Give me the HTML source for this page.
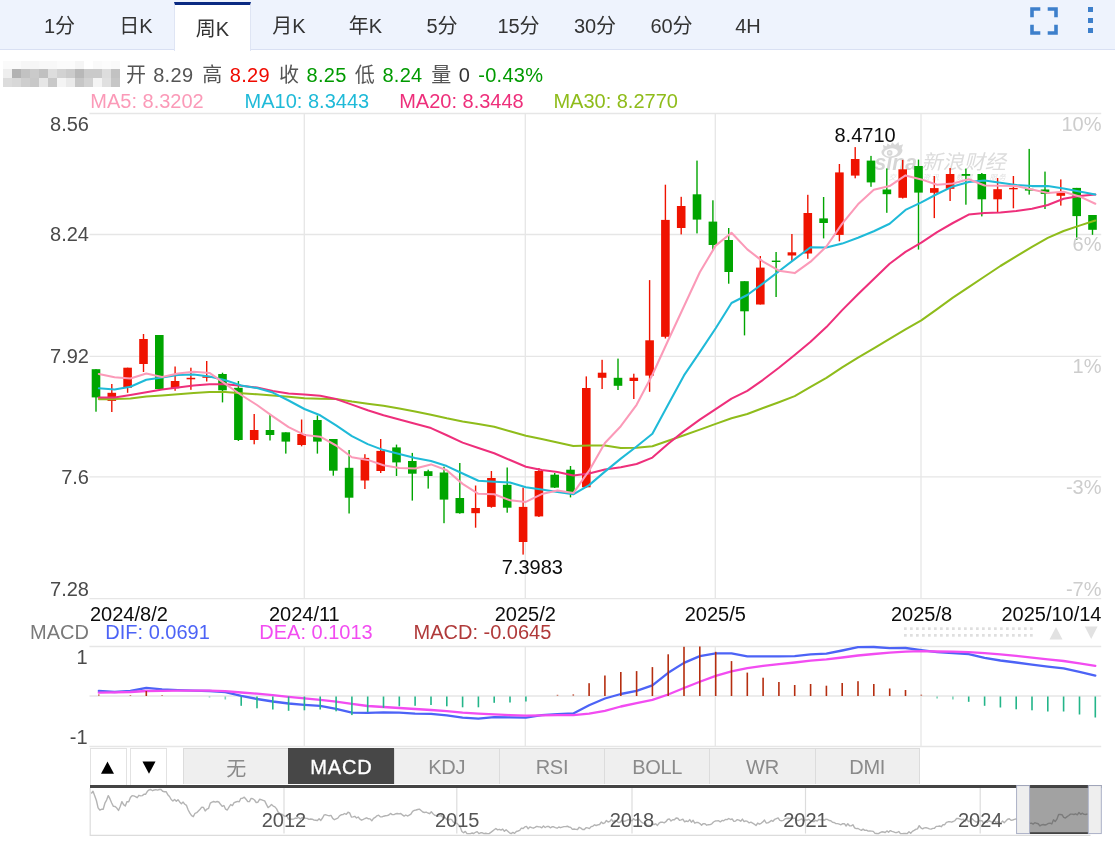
<!DOCTYPE html>
<html lang="zh-CN">
<head>
<meta charset="utf-8">
<title>周K</title>
<style>
html,body{margin:0;padding:0;background:#fff;}
body{width:1115px;height:847px;overflow:hidden;position:relative;font-family:"Liberation Sans","Noto Sans CJK SC",sans-serif;}
.bar{position:absolute;left:0;top:0;width:1115px;height:49px;background:#eef3fd;border-bottom:1.3px solid #d9e0f3;box-sizing:content-box;}
.tabs{position:absolute;left:21.25px;top:0;height:50px;display:flex;}
.tab{width:76.5px;height:50px;line-height:53px;text-align:center;font-size:20px;color:#333;box-sizing:border-box;}
.tab.on{background:#fff;border-top:3px solid #0a2a82;margin-top:2px;height:49px;line-height:48px;border-left:1px solid #dfe5f4;border-right:1px solid #dfe5f4;}
.fs{position:absolute;left:1030px;top:7px;width:28px;height:28px;}
.dots i{position:absolute;left:1088px;width:5.2px;height:5.2px;background:#3d7fcb;}
.mosaic{position:absolute;left:3px;top:60.5px;width:117.3px;height:26.6px;overflow:hidden;filter:blur(0.5px);}
.mosaic i{position:absolute;width:9.1px;height:8.95px;}
.info{position:absolute;top:61.6px;left:0;height:26px;line-height:26px;font-size:20px;color:#555;white-space:nowrap;}
.info span{position:absolute;top:0;letter-spacing:0.3px;}
.r{color:#f00a00;} .g{color:#009a00;}
.cv{position:absolute;left:0;top:0;}
.ibar{position:absolute;left:90px;top:748px;width:1011.5px;height:37.2px;}
.ab{position:absolute;top:0;height:36.5px;width:36.5px;border:1px solid #e2e2e2;border-bottom:none;box-sizing:border-box;font-size:0;}
.ab svg{position:absolute;left:0;top:0;}
.its{position:absolute;left:93px;top:0;display:flex;height:37px;}
.it{width:105.28px;height:36.3px;line-height:37px;overflow:hidden;text-align:center;font-size:20px;color:#8a8a8a;background:#efefef;border:1px solid #dcdcdc;border-right:none;border-bottom:none;box-sizing:border-box;letter-spacing:-0.3px;}
.it:last-child{border-right:1px solid #dcdcdc;}
.it.on{background:#474747;color:#fff;border-color:#474747;letter-spacing:0.9px;-webkit-text-stroke:0.35px #fff;}
.it:first-child{line-height:40px;}
</style>
</head>
<body>
<div class="bar"></div>
<div class="tabs"><div class="tab">1分</div><div class="tab">日K</div><div class="tab on">周K</div><div class="tab">月K</div><div class="tab">年K</div><div class="tab">5分</div><div class="tab">15分</div><div class="tab">30分</div><div class="tab">60分</div><div class="tab">4H</div></div>
<svg class="fs" viewBox="0 0 28 28"><path d="M2 10.3V2h8.3M17.7 2H26v8.3M26 17.7V26h-8.3M10.3 26H2v-8.3" fill="none" stroke="#3d7fcb" stroke-width="3.6"/></svg>
<div class="dots"><i style="top:7.2px"></i><i style="top:17.7px"></i><i style="top:28px"></i></div>
<div class="mosaic"><i style="left:0.00px;top:0.00px;background:#fafafa"></i><i style="left:9.02px;top:0.00px;background:#fafafa"></i><i style="left:18.04px;top:0.00px;background:#f6f6f6"></i><i style="left:27.06px;top:0.00px;background:#f6f6f6"></i><i style="left:36.08px;top:0.00px;background:#f8f8f8"></i><i style="left:45.10px;top:0.00px;background:#f8f8f8"></i><i style="left:54.12px;top:0.00px;background:#fbfbfb"></i><i style="left:63.14px;top:0.00px;background:#fbfbfb"></i><i style="left:72.16px;top:0.00px;background:#f5f5f5"></i><i style="left:81.18px;top:0.00px;background:#ffffff"></i><i style="left:90.20px;top:0.00px;background:#fafafa"></i><i style="left:99.22px;top:0.00px;background:#fcfcfc"></i><i style="left:108.24px;top:0.00px;background:#fafafa"></i><i style="left:0.00px;top:8.85px;background:#eeeeee"></i><i style="left:9.02px;top:8.85px;background:#b2b2b2"></i><i style="left:18.04px;top:8.85px;background:#c2c2c2"></i><i style="left:27.06px;top:8.85px;background:#cacaca"></i><i style="left:36.08px;top:8.85px;background:#c0c0c0"></i><i style="left:45.10px;top:8.85px;background:#dddddd"></i><i style="left:54.12px;top:8.85px;background:#d2d2d2"></i><i style="left:63.14px;top:8.85px;background:#cbcbcb"></i><i style="left:72.16px;top:8.85px;background:#b8b8b8"></i><i style="left:81.18px;top:8.85px;background:#cacaca"></i><i style="left:90.20px;top:8.85px;background:#cacaca"></i><i style="left:99.22px;top:8.85px;background:#dddddd"></i><i style="left:108.24px;top:8.85px;background:#c2c2c2"></i><i style="left:0.00px;top:17.70px;background:#dcdcdc"></i><i style="left:9.02px;top:17.70px;background:#d8d8d8"></i><i style="left:18.04px;top:17.70px;background:#cecece"></i><i style="left:27.06px;top:17.70px;background:#c8c8c8"></i><i style="left:36.08px;top:17.70px;background:#e6e6e6"></i><i style="left:45.10px;top:17.70px;background:#c8c8c8"></i><i style="left:54.12px;top:17.70px;background:#f4f4f4"></i><i style="left:63.14px;top:17.70px;background:#eaeaea"></i><i style="left:72.16px;top:17.70px;background:#c6c6c6"></i><i style="left:81.18px;top:17.70px;background:#d2d2d2"></i><i style="left:90.20px;top:17.70px;background:#f4f4f4"></i><i style="left:99.22px;top:17.70px;background:#e0e0e0"></i><i style="left:108.24px;top:17.70px;background:#c6c6c6"></i></div>
<div class="info">
<span style="left:126px">开</span><span style="left:153.2px">8.29</span>
<span style="left:202.2px">高</span><span class="r" style="left:229.8px">8.29</span>
<span style="left:279px">收</span><span class="g" style="left:306.6px">8.25</span>
<span style="left:354.8px">低</span><span class="g" style="left:382.4px">8.24</span>
<span style="left:431.2px">量</span><span style="left:458.8px;color:#333">0</span>
<span class="g" style="left:478.2px">-0.43%</span>
</div>
<svg class="cv" width="1115" height="847" viewBox="0 0 1115 847">
<g stroke="#e6e6e6" stroke-width="1.3" fill="none" shape-rendering="auto">
<line x1="89.5" x2="1101.2" y1="113.5" y2="113.5"/>
<line x1="89.5" x2="1101.2" y1="234.5" y2="234.5"/>
<line x1="89.5" x2="1101.2" y1="356.3" y2="356.3"/>
<line x1="89.5" x2="1101.2" y1="476.8" y2="476.8"/>
<line x1="89.5" x2="1101.2" y1="598.6" y2="598.6"/>
<line x1="304.3" x2="304.3" y1="113.5" y2="598.6"/>
<line x1="304.3" x2="304.3" y1="646.5" y2="746.5"/>
<line x1="525.3" x2="525.3" y1="113.5" y2="598.6"/>
<line x1="525.3" x2="525.3" y1="646.5" y2="746.5"/>
<line x1="715.3" x2="715.3" y1="113.5" y2="598.6"/>
<line x1="715.3" x2="715.3" y1="646.5" y2="746.5"/>
<line x1="921" x2="921" y1="113.5" y2="598.6"/>
<line x1="921" x2="921" y1="646.5" y2="746.5"/>
<line x1="89.5" x2="1101.2" y1="646.5" y2="646.5"/>
<line x1="89.5" x2="1101.2" y1="696" y2="696"/>
<line x1="89.5" x2="1101.2" y1="746.5" y2="746.5"/>
</g>
<g opacity="1">
<g fill="#d8d8d8" stroke="none"><ellipse cx="892" cy="151.6" rx="10.6" ry="6.2" transform="rotate(-8 892 151.6)"/><path d="M883.5 148 L882.8 144.8 L886.5 146.5 L887.5 143.2 L890.5 145.5 L892.2 142.3 L895 145 L898.5 142 L899.2 145.6 L903.2 144.3 L901.5 148.5 Z"/></g>
<ellipse cx="890.9" cy="152.4" rx="7" ry="4" fill="#fff" transform="rotate(-8 890.9 152.4)"/>
<circle cx="889.7" cy="152.9" r="2.8" fill="#d8d8d8"/><circle cx="889.5" cy="152.8" r="1.2" fill="#ececec"/>
<text x="874.6" y="169.6" font-family="'Liberation Sans',sans-serif" font-weight="bold" font-style="italic" font-size="21.5" fill="#d6d6d6" textLength="42.3" lengthAdjust="spacingAndGlyphs">sına</text>
<text x="921.5" y="168.6" font-family="'Liberation Sans','Noto Sans CJK SC',sans-serif" font-weight="400" font-size="20" fill="#dcdcdc" transform="skewX(-14)" style="transform-origin:921.5px 168.6px" textLength="84.5" lengthAdjust="spacingAndGlyphs">新浪财经</text>
<text x="889" y="180.5" font-family="'Liberation Sans','Noto Sans CJK SC',sans-serif" font-size="7.5" fill="#e2e2e2" style="transform-origin:889px 180px" transform="skewX(-14)" textLength="117" lengthAdjust="spacing" word-spacing="12">交易 资讯 数据 服务</text>
</g>
<rect x="95.3" y="369.2" width="1.4" height="42.5" fill="#00a500"/><rect x="91.7" y="369.2" width="8.6" height="28.2" fill="#00a500"/>
<rect x="111.1" y="384.0" width="1.4" height="28.0" fill="#ef1300"/><rect x="107.5" y="392.8" width="8.6" height="8.1" fill="#ef1300"/>
<rect x="126.9" y="367.7" width="1.4" height="25.1" fill="#ef1300"/><rect x="123.3" y="367.7" width="8.6" height="20.1" fill="#ef1300"/>
<rect x="142.8" y="334.0" width="1.4" height="38.0" fill="#ef1300"/><rect x="139.2" y="339.0" width="8.6" height="25.0" fill="#ef1300"/>
<rect x="158.6" y="335.0" width="1.4" height="54.0" fill="#00a500"/><rect x="155.0" y="335.0" width="8.6" height="54.0" fill="#00a500"/>
<rect x="174.4" y="366.5" width="1.4" height="24.3" fill="#ef1300"/><rect x="170.8" y="381.0" width="8.6" height="7.3" fill="#ef1300"/>
<rect x="190.2" y="367.7" width="1.4" height="22.1" fill="#ef1300"/><rect x="186.6" y="377.8" width="8.6" height="1.5" fill="#ef1300"/>
<rect x="206.0" y="361.0" width="1.4" height="20.5" fill="#ef1300"/><rect x="202.4" y="376.3" width="8.6" height="1.5" fill="#ef1300"/>
<rect x="221.8" y="372.7" width="1.4" height="29.7" fill="#00a500"/><rect x="218.2" y="374.0" width="8.6" height="16.3" fill="#00a500"/>
<rect x="237.7" y="381.0" width="1.4" height="60.0" fill="#00a500"/><rect x="234.1" y="387.8" width="8.6" height="52.2" fill="#00a500"/>
<rect x="253.5" y="414.0" width="1.4" height="30.3" fill="#ef1300"/><rect x="249.9" y="430.0" width="8.6" height="10.0" fill="#ef1300"/>
<rect x="269.3" y="415.0" width="1.4" height="25.5" fill="#00a500"/><rect x="265.7" y="430.0" width="8.6" height="5.0" fill="#00a500"/>
<rect x="285.1" y="432.3" width="1.4" height="21.3" fill="#00a500"/><rect x="281.5" y="432.3" width="8.6" height="9.3" fill="#00a500"/>
<rect x="300.9" y="419.5" width="1.4" height="26.8" fill="#ef1300"/><rect x="297.3" y="434.0" width="8.6" height="11.0" fill="#ef1300"/>
<rect x="316.7" y="415.4" width="1.4" height="38.2" fill="#00a500"/><rect x="313.1" y="420.0" width="8.6" height="21.6" fill="#00a500"/>
<rect x="332.6" y="439.0" width="1.4" height="36.7" fill="#00a500"/><rect x="329.0" y="439.0" width="8.6" height="31.7" fill="#00a500"/>
<rect x="348.4" y="450.0" width="1.4" height="63.5" fill="#00a500"/><rect x="344.8" y="467.8" width="8.6" height="29.9" fill="#00a500"/>
<rect x="364.2" y="454.2" width="1.4" height="34.8" fill="#ef1300"/><rect x="360.6" y="457.9" width="8.6" height="22.6" fill="#ef1300"/>
<rect x="380.0" y="439.0" width="1.4" height="34.0" fill="#ef1300"/><rect x="376.4" y="450.9" width="8.6" height="20.1" fill="#ef1300"/>
<rect x="395.8" y="444.6" width="1.4" height="31.4" fill="#00a500"/><rect x="392.2" y="447.4" width="8.6" height="15.0" fill="#00a500"/>
<rect x="411.6" y="452.9" width="1.4" height="47.7" fill="#00a500"/><rect x="408.0" y="461.0" width="8.6" height="12.7" fill="#00a500"/>
<rect x="427.5" y="469.7" width="1.4" height="18.9" fill="#00a500"/><rect x="423.9" y="471.2" width="8.6" height="4.8" fill="#00a500"/>
<rect x="443.3" y="466.7" width="1.4" height="56.5" fill="#00a500"/><rect x="439.7" y="472.5" width="8.6" height="27.1" fill="#00a500"/>
<rect x="459.1" y="463.0" width="1.4" height="50.7" fill="#00a500"/><rect x="455.5" y="498.0" width="8.6" height="15.2" fill="#00a500"/>
<rect x="474.9" y="485.5" width="1.4" height="42.2" fill="#ef1300"/><rect x="471.3" y="508.0" width="8.6" height="5.2" fill="#ef1300"/>
<rect x="490.7" y="471.0" width="1.4" height="36.7" fill="#ef1300"/><rect x="487.1" y="478.0" width="8.6" height="28.9" fill="#ef1300"/>
<rect x="506.5" y="467.5" width="1.4" height="45.2" fill="#00a500"/><rect x="502.9" y="484.8" width="8.6" height="22.9" fill="#00a500"/>
<rect x="522.4" y="487.6" width="1.4" height="67.0" fill="#ef1300"/><rect x="518.8" y="506.9" width="8.6" height="35.1" fill="#ef1300"/>
<rect x="538.2" y="468.0" width="1.4" height="49.0" fill="#ef1300"/><rect x="534.6" y="471.0" width="8.6" height="45.4" fill="#ef1300"/>
<rect x="554.0" y="473.0" width="1.4" height="15.0" fill="#00a500"/><rect x="550.4" y="474.7" width="8.6" height="12.9" fill="#00a500"/>
<rect x="569.8" y="466.0" width="1.4" height="31.4" fill="#00a500"/><rect x="566.2" y="469.7" width="8.6" height="22.9" fill="#00a500"/>
<rect x="585.6" y="376.4" width="1.4" height="111.2" fill="#ef1300"/><rect x="582.0" y="388.0" width="8.6" height="99.3" fill="#ef1300"/>
<rect x="601.4" y="359.8" width="1.4" height="29.2" fill="#ef1300"/><rect x="597.8" y="372.7" width="8.6" height="5.1" fill="#ef1300"/>
<rect x="617.3" y="358.6" width="1.4" height="31.4" fill="#00a500"/><rect x="613.7" y="377.8" width="8.6" height="8.0" fill="#00a500"/>
<rect x="633.1" y="373.7" width="1.4" height="25.3" fill="#ef1300"/><rect x="629.5" y="377.7" width="8.6" height="3.3" fill="#ef1300"/>
<rect x="648.9" y="280.1" width="1.4" height="111.7" fill="#ef1300"/><rect x="645.3" y="340.3" width="8.6" height="35.3" fill="#ef1300"/>
<rect x="664.7" y="184.7" width="1.4" height="153.8" fill="#ef1300"/><rect x="661.1" y="219.9" width="8.6" height="116.9" fill="#ef1300"/>
<rect x="680.5" y="196.8" width="1.4" height="37.6" fill="#ef1300"/><rect x="676.9" y="206.0" width="8.6" height="22.0" fill="#ef1300"/>
<rect x="696.3" y="160.6" width="1.4" height="72.8" fill="#00a500"/><rect x="692.7" y="194.3" width="8.6" height="25.3" fill="#00a500"/>
<rect x="712.2" y="200.3" width="1.4" height="50.2" fill="#00a500"/><rect x="708.6" y="221.6" width="8.6" height="23.4" fill="#00a500"/>
<rect x="728.0" y="228.0" width="1.4" height="55.7" fill="#00a500"/><rect x="724.4" y="240.0" width="8.6" height="32.0" fill="#00a500"/>
<rect x="743.8" y="281.2" width="1.4" height="54.2" fill="#00a500"/><rect x="740.2" y="281.2" width="8.6" height="30.1" fill="#00a500"/>
<rect x="759.6" y="256.0" width="1.4" height="48.5" fill="#ef1300"/><rect x="756.0" y="267.6" width="8.6" height="36.9" fill="#ef1300"/>
<rect x="775.4" y="252.0" width="1.4" height="45.0" fill="#00a500"/><rect x="771.8" y="260.6" width="8.6" height="1.4" fill="#00a500"/>
<rect x="791.2" y="234.0" width="1.4" height="27.0" fill="#ef1300"/><rect x="787.6" y="252.3" width="8.6" height="3.2" fill="#ef1300"/>
<rect x="807.1" y="194.8" width="1.4" height="64.0" fill="#ef1300"/><rect x="803.5" y="213.0" width="8.6" height="40.5" fill="#ef1300"/>
<rect x="822.9" y="197.0" width="1.4" height="41.4" fill="#00a500"/><rect x="819.3" y="218.4" width="8.6" height="4.6" fill="#00a500"/>
<rect x="838.7" y="164.0" width="1.4" height="77.3" fill="#ef1300"/><rect x="835.1" y="172.4" width="8.6" height="62.5" fill="#ef1300"/>
<rect x="854.5" y="147.1" width="1.4" height="31.2" fill="#ef1300"/><rect x="850.9" y="159.0" width="8.6" height="16.6" fill="#ef1300"/>
<rect x="870.3" y="155.9" width="1.4" height="30.9" fill="#00a500"/><rect x="866.7" y="160.6" width="8.6" height="21.8" fill="#00a500"/>
<rect x="886.1" y="168.4" width="1.4" height="44.4" fill="#00a500"/><rect x="882.6" y="189.5" width="8.6" height="4.7" fill="#00a500"/>
<rect x="902.0" y="159.9" width="1.4" height="38.6" fill="#ef1300"/><rect x="898.4" y="169.3" width="8.6" height="28.5" fill="#ef1300"/>
<rect x="917.8" y="159.6" width="1.4" height="90.0" fill="#00a500"/><rect x="914.2" y="166.0" width="8.6" height="26.6" fill="#00a500"/>
<rect x="933.6" y="176.0" width="1.4" height="42.1" fill="#ef1300"/><rect x="930.0" y="188.1" width="8.6" height="4.7" fill="#ef1300"/>
<rect x="949.4" y="168.0" width="1.4" height="33.0" fill="#ef1300"/><rect x="945.8" y="174.0" width="8.6" height="14.8" fill="#ef1300"/>
<rect x="965.2" y="168.6" width="1.4" height="36.1" fill="#00a500"/><rect x="961.6" y="174.0" width="8.6" height="1.8" fill="#00a500"/>
<rect x="981.1" y="173.0" width="1.4" height="43.4" fill="#00a500"/><rect x="977.5" y="174.0" width="8.6" height="25.3" fill="#00a500"/>
<rect x="996.9" y="178.0" width="1.4" height="34.3" fill="#ef1300"/><rect x="993.3" y="189.2" width="8.6" height="10.1" fill="#ef1300"/>
<rect x="1012.7" y="176.0" width="1.4" height="32.3" fill="#ef1300"/><rect x="1009.1" y="187.9" width="8.6" height="1.4" fill="#ef1300"/>
<rect x="1028.5" y="148.9" width="1.4" height="45.7" fill="#00a500"/><rect x="1024.9" y="188.8" width="8.6" height="1.8" fill="#00a500"/>
<rect x="1044.3" y="171.6" width="1.4" height="37.4" fill="#00a500"/><rect x="1040.7" y="189.5" width="8.6" height="4.4" fill="#00a500"/>
<rect x="1060.1" y="179.4" width="1.4" height="26.2" fill="#ef1300"/><rect x="1056.5" y="192.6" width="8.6" height="3.2" fill="#ef1300"/>
<rect x="1076.0" y="187.9" width="1.4" height="52.0" fill="#00a500"/><rect x="1072.4" y="187.9" width="8.6" height="28.2" fill="#00a500"/>
<rect x="1091.8" y="215.0" width="1.4" height="19.8" fill="#00a500"/><rect x="1088.2" y="215.0" width="8.6" height="14.8" fill="#00a500"/>
<polyline points="98.8,399.1 114.6,399.1 130.4,398.4 146.3,396.5 162.1,395.4 177.9,394.3 193.7,393.1 209.5,391.9 225.3,392.1 241.2,393.3 257.0,394.3 272.8,395.4 288.6,396.8 304.4,398.3 320.2,398.7 336.1,399.1 351.9,401.6 367.7,403.7 383.5,405.7 399.3,408.5 415.1,411.4 431.0,414.8 446.8,418.3 462.6,421.4 478.4,424.0 494.2,426.8 510.0,431.3 525.9,435.8 541.7,439.1 557.5,442.5 573.3,446.1 589.1,445.5 604.9,445.4 620.8,447.9 636.6,447.7 652.4,446.2 668.2,440.8 684.0,435.2 699.8,429.6 715.7,423.9 731.5,418.2 747.3,414.0 763.1,408.0 778.9,402.2 794.7,396.1 810.6,386.8 826.4,377.8 842.2,367.4 858.0,357.6 873.8,348.3 889.6,338.8 905.5,329.4 921.3,320.4 937.1,309.1 952.9,297.7 968.7,287.1 984.6,276.5 1000.4,266.0 1016.2,256.4 1032.0,246.9 1047.8,237.9 1063.6,231.0 1079.5,225.6 1095.3,220.5" fill="none" stroke="#8fbc1b" stroke-width="2.05" stroke-linejoin="round" stroke-linecap="round"/>
<polyline points="98.8,397.4 114.6,397.4 130.4,394.9 146.3,392.2 162.1,389.6 177.9,387.5 193.7,385.5 209.5,384.3 225.3,384.3 241.2,385.8 257.0,387.6 272.8,391.0 288.6,393.4 304.4,394.5 320.2,395.8 336.1,399.1 351.9,404.6 367.7,410.3 383.5,415.2 399.3,419.5 415.1,423.7 431.0,428.1 446.8,435.3 462.6,442.6 478.4,448.0 494.2,453.3 510.0,460.0 525.9,466.7 541.7,470.1 557.5,472.0 573.3,475.5 589.1,473.4 604.9,469.5 620.8,467.3 636.6,464.0 652.4,457.6 668.2,443.7 684.0,431.1 699.8,419.7 715.7,409.1 731.5,398.6 747.3,390.8 763.1,379.8 778.9,367.8 794.7,355.0 810.6,341.7 826.4,327.1 842.2,310.1 858.0,294.2 873.8,278.9 889.6,263.8 905.5,251.9 921.3,242.6 937.1,232.1 952.9,223.0 968.7,214.6 984.6,212.9 1000.4,212.4 1016.2,211.1 1032.0,208.8 1047.8,205.0 1063.6,198.8 1079.5,195.9 1095.3,194.6" fill="none" stroke="#ee2f7b" stroke-width="2.05" stroke-linejoin="round" stroke-linecap="round"/>
<polyline points="98.8,388.3 114.6,389.6 130.4,386.8 146.3,379.7 162.1,377.4 177.9,375.1 193.7,374.4 209.5,376.4 225.3,380.2 241.2,385.4 257.0,388.1 272.8,392.6 288.6,400.5 304.4,409.0 320.2,415.3 336.1,425.4 351.9,436.1 367.7,444.1 383.5,450.1 399.3,454.0 415.1,457.9 431.0,461.1 446.8,466.1 462.6,473.5 478.4,480.8 494.2,481.8 510.0,482.5 525.9,487.3 541.7,489.4 557.5,492.0 573.3,494.3 589.1,485.1 604.9,471.6 620.8,458.6 636.6,446.5 652.4,433.7 668.2,404.4 684.0,375.4 699.8,352.2 715.7,328.3 731.5,303.0 747.3,295.0 763.1,283.4 778.9,271.2 794.7,259.1 810.6,247.2 826.4,247.5 842.2,243.6 858.0,237.7 873.8,231.3 889.6,223.8 905.5,209.9 921.3,202.3 937.1,194.0 952.9,186.4 968.7,182.1 984.6,180.6 1000.4,182.8 1016.2,184.9 1032.0,186.1 1047.8,186.1 1063.6,188.5 1079.5,191.4 1095.3,194.4" fill="none" stroke="#1fbad8" stroke-width="2.05" stroke-linejoin="round" stroke-linecap="round"/>
<polyline points="98.8,374.0 114.6,377.2 130.4,378.4 146.3,373.6 162.1,376.9 177.9,373.6 193.7,371.7 209.5,372.9 225.3,383.8 241.2,395.0 257.0,405.0 272.8,416.3 288.6,427.2 304.4,434.9 320.2,436.7 336.1,445.5 351.9,457.2 367.7,459.9 383.5,465.2 399.3,468.1 415.1,468.5 431.0,464.4 446.8,470.3 462.6,483.9 478.4,493.8 494.2,494.3 510.0,500.3 525.9,501.9 541.7,494.1 557.5,490.4 573.3,493.1 589.1,470.7 604.9,443.0 620.8,426.2 636.6,404.8 652.4,374.8 668.2,340.2 684.0,306.2 699.8,272.2 715.7,245.6 731.5,232.8 747.3,249.4 763.1,261.6 778.9,270.7 794.7,273.1 810.6,261.7 826.4,246.5 842.2,223.6 858.0,204.3 873.8,189.8 889.6,186.1 905.5,175.4 921.3,179.4 937.1,184.8 952.9,183.5 968.7,179.2 984.6,185.5 1000.4,185.8 1016.2,186.1 1032.0,189.4 1047.8,193.1 1063.6,191.8 1079.5,196.4 1095.3,203.7" fill="none" stroke="#fb9ab8" stroke-width="2.05" stroke-linejoin="round" stroke-linecap="round"/>
<polyline points="98.8,691.0 114.6,692.0 130.4,691.0 146.3,687.8 162.1,689.4 177.9,690.1 193.7,690.6 209.5,691.0 225.3,692.2 241.2,695.8 257.0,699.0 272.8,701.5 288.6,703.5 304.4,704.8 320.2,705.8 336.1,708.8 351.9,712.6 367.7,712.8 383.5,712.3 399.3,712.6 415.1,713.6 431.0,713.9 446.8,715.4 462.6,717.6 478.4,718.6 494.2,717.1 510.0,717.3 525.9,717.6 541.7,715.1 557.5,714.1 573.3,713.4 589.1,705.3 604.9,698.5 620.8,694.0 636.6,690.8 652.4,685.3 668.2,672.8 684.0,662.9 699.8,656.1 715.7,653.3 731.5,653.4 747.3,656.3 763.1,656.3 778.9,656.3 794.7,656.2 810.6,654.4 826.4,653.7 842.2,650.5 858.0,647.2 873.8,647.0 889.6,648.2 905.5,648.0 921.3,650.2 937.1,652.1 952.9,653.1 968.7,654.2 984.6,657.9 1000.4,660.5 1016.2,662.5 1032.0,664.6 1047.8,666.6 1063.6,668.3 1079.5,671.8 1095.3,675.6" fill="none" stroke="#4c63f6" stroke-width="2.3" stroke-linejoin="round" stroke-linecap="round"/>
<polyline points="98.8,692.7 114.6,692.4 130.4,692.0 146.3,691.0 162.1,690.9 177.9,690.7 193.7,690.7 209.5,690.7 225.3,691.2 241.2,692.5 257.0,693.7 272.8,695.2 288.6,696.9 304.4,698.3 320.2,699.8 336.1,701.6 351.9,703.9 367.7,706.0 383.5,707.0 399.3,708.0 415.1,709.0 431.0,710.0 446.8,711.1 462.6,712.6 478.4,713.6 494.2,714.3 510.0,715.1 525.9,715.6 541.7,715.3 557.5,715.1 573.3,715.1 589.1,713.6 604.9,710.8 620.8,706.5 636.6,703.2 652.4,699.9 668.2,694.5 684.0,688.0 699.8,681.8 715.7,675.9 731.5,671.3 747.3,668.2 763.1,665.9 778.9,664.1 794.7,662.5 810.6,660.7 826.4,659.3 842.2,657.5 858.0,655.5 873.8,654.0 889.6,652.6 905.5,651.7 921.3,651.2 937.1,651.5 952.9,651.7 968.7,652.2 984.6,653.2 1000.4,654.3 1016.2,655.8 1032.0,657.6 1047.8,659.4 1063.6,661.0 1079.5,663.4 1095.3,665.8" fill="none" stroke="#f24cf1" stroke-width="2.3" stroke-linejoin="round" stroke-linecap="round"/>
<rect x="98.0" y="694.2" width="1.6" height="1.8" fill="#b52e10" opacity="0.55"/>
<rect x="129.6" y="695.0" width="1.6" height="1.0" fill="#b52e10" opacity="0.55"/>
<rect x="145.5" y="691.0" width="1.6" height="5.0" fill="#b52e10" opacity="1"/>
<rect x="161.3" y="695.0" width="1.6" height="1.0" fill="#b52e10" opacity="0.55"/>
<rect x="208.7" y="696.5" width="1.6" height="1.0" fill="#24b589" opacity="0.6"/>
<rect x="224.5" y="696.5" width="1.6" height="3.0" fill="#24b589" opacity="0.6"/>
<rect x="240.4" y="696.5" width="1.6" height="9.3" fill="#24b589" opacity="1"/>
<rect x="256.2" y="696.5" width="1.6" height="11.8" fill="#24b589" opacity="1"/>
<rect x="272.0" y="696.5" width="1.6" height="13.0" fill="#24b589" opacity="1"/>
<rect x="287.8" y="696.5" width="1.6" height="14.3" fill="#24b589" opacity="1"/>
<rect x="303.6" y="696.5" width="1.6" height="13.8" fill="#24b589" opacity="1"/>
<rect x="319.4" y="696.5" width="1.6" height="13.0" fill="#24b589" opacity="1"/>
<rect x="335.3" y="696.5" width="1.6" height="14.8" fill="#24b589" opacity="1"/>
<rect x="351.1" y="696.5" width="1.6" height="18.6" fill="#24b589" opacity="1"/>
<rect x="366.9" y="696.5" width="1.6" height="15.6" fill="#24b589" opacity="1"/>
<rect x="382.7" y="696.5" width="1.6" height="11.3" fill="#24b589" opacity="1"/>
<rect x="398.5" y="696.5" width="1.6" height="9.8" fill="#24b589" opacity="1"/>
<rect x="414.3" y="696.5" width="1.6" height="9.3" fill="#24b589" opacity="1"/>
<rect x="430.2" y="696.5" width="1.6" height="8.5" fill="#24b589" opacity="1"/>
<rect x="446.0" y="696.5" width="1.6" height="9.8" fill="#24b589" opacity="1"/>
<rect x="461.8" y="696.5" width="1.6" height="10.8" fill="#24b589" opacity="1"/>
<rect x="477.6" y="696.5" width="1.6" height="10.8" fill="#24b589" opacity="1"/>
<rect x="493.4" y="696.5" width="1.6" height="6.3" fill="#24b589" opacity="1"/>
<rect x="509.2" y="696.5" width="1.6" height="6.0" fill="#24b589" opacity="1"/>
<rect x="525.1" y="696.5" width="1.6" height="5.0" fill="#24b589" opacity="1"/>
<rect x="556.7" y="694.7" width="1.6" height="1.3" fill="#b52e10" opacity="0.55"/>
<rect x="572.5" y="694.0" width="1.6" height="2.0" fill="#b52e10" opacity="0.55"/>
<rect x="588.3" y="683.2" width="1.6" height="12.8" fill="#b52e10" opacity="1"/>
<rect x="604.1" y="675.5" width="1.6" height="20.5" fill="#b52e10" opacity="1"/>
<rect x="620.0" y="672.0" width="1.6" height="24.0" fill="#b52e10" opacity="1"/>
<rect x="635.8" y="671.1" width="1.6" height="24.9" fill="#b52e10" opacity="1"/>
<rect x="651.6" y="667.1" width="1.6" height="28.9" fill="#b52e10" opacity="1"/>
<rect x="667.4" y="654.3" width="1.6" height="41.7" fill="#b52e10" opacity="1"/>
<rect x="683.2" y="646.8" width="1.6" height="49.2" fill="#b52e10" opacity="1"/>
<rect x="699.0" y="646.5" width="1.6" height="49.5" fill="#b52e10" opacity="1"/>
<rect x="714.9" y="651.8" width="1.6" height="44.2" fill="#b52e10" opacity="1"/>
<rect x="730.7" y="661.1" width="1.6" height="34.9" fill="#b52e10" opacity="1"/>
<rect x="746.5" y="672.6" width="1.6" height="23.4" fill="#b52e10" opacity="1"/>
<rect x="762.3" y="677.7" width="1.6" height="18.3" fill="#b52e10" opacity="1"/>
<rect x="778.1" y="682.0" width="1.6" height="14.0" fill="#b52e10" opacity="1"/>
<rect x="793.9" y="685.0" width="1.6" height="11.0" fill="#b52e10" opacity="1"/>
<rect x="809.8" y="684.0" width="1.6" height="12.0" fill="#b52e10" opacity="1"/>
<rect x="825.6" y="685.7" width="1.6" height="10.3" fill="#b52e10" opacity="1"/>
<rect x="841.4" y="683.0" width="1.6" height="13.0" fill="#b52e10" opacity="1"/>
<rect x="857.2" y="681.2" width="1.6" height="14.8" fill="#b52e10" opacity="1"/>
<rect x="873.0" y="684.0" width="1.6" height="12.0" fill="#b52e10" opacity="1"/>
<rect x="888.9" y="688.5" width="1.6" height="7.5" fill="#b52e10" opacity="1"/>
<rect x="904.7" y="690.0" width="1.6" height="6.0" fill="#b52e10" opacity="1"/>
<rect x="920.5" y="694.5" width="1.6" height="1.5" fill="#b52e10" opacity="0.55"/>
<rect x="936.3" y="696.5" width="1.6" height="2.0" fill="#24b589" opacity="0.6"/>
<rect x="952.1" y="696.5" width="1.6" height="3.0" fill="#24b589" opacity="0.6"/>
<rect x="967.9" y="696.5" width="1.6" height="5.3" fill="#24b589" opacity="1"/>
<rect x="983.8" y="696.5" width="1.6" height="9.3" fill="#24b589" opacity="1"/>
<rect x="999.6" y="696.5" width="1.6" height="11.0" fill="#24b589" opacity="1"/>
<rect x="1015.4" y="696.5" width="1.6" height="12.8" fill="#24b589" opacity="1"/>
<rect x="1031.2" y="696.5" width="1.6" height="13.8" fill="#24b589" opacity="1"/>
<rect x="1047.0" y="696.5" width="1.6" height="15.0" fill="#24b589" opacity="1"/>
<rect x="1062.8" y="696.5" width="1.6" height="15.0" fill="#24b589" opacity="1"/>
<rect x="1078.7" y="696.5" width="1.6" height="18.0" fill="#24b589" opacity="1"/>
<rect x="1094.5" y="696.5" width="1.6" height="21.0" fill="#24b589" opacity="1"/>
<g fill="#dfdfdf"><rect x="904.0" y="627.3" width="2.7" height="2.7"/><rect x="904.0" y="634" width="2.7" height="2.7"/><rect x="910.0" y="627.3" width="2.7" height="2.7"/><rect x="910.0" y="634" width="2.7" height="2.7"/><rect x="916.0" y="627.3" width="2.7" height="2.7"/><rect x="916.0" y="634" width="2.7" height="2.7"/><rect x="922.0" y="627.3" width="2.7" height="2.7"/><rect x="922.0" y="634" width="2.7" height="2.7"/><rect x="928.0" y="627.3" width="2.7" height="2.7"/><rect x="928.0" y="634" width="2.7" height="2.7"/><rect x="934.0" y="627.3" width="2.7" height="2.7"/><rect x="934.0" y="634" width="2.7" height="2.7"/><rect x="940.0" y="627.3" width="2.7" height="2.7"/><rect x="940.0" y="634" width="2.7" height="2.7"/><rect x="946.0" y="627.3" width="2.7" height="2.7"/><rect x="946.0" y="634" width="2.7" height="2.7"/><rect x="952.0" y="627.3" width="2.7" height="2.7"/><rect x="952.0" y="634" width="2.7" height="2.7"/><rect x="958.0" y="627.3" width="2.7" height="2.7"/><rect x="958.0" y="634" width="2.7" height="2.7"/><rect x="964.0" y="627.3" width="2.7" height="2.7"/><rect x="964.0" y="634" width="2.7" height="2.7"/><rect x="970.0" y="627.3" width="2.7" height="2.7"/><rect x="970.0" y="634" width="2.7" height="2.7"/><rect x="976.0" y="627.3" width="2.7" height="2.7"/><rect x="976.0" y="634" width="2.7" height="2.7"/><rect x="982.0" y="627.3" width="2.7" height="2.7"/><rect x="982.0" y="634" width="2.7" height="2.7"/><rect x="988.0" y="627.3" width="2.7" height="2.7"/><rect x="988.0" y="634" width="2.7" height="2.7"/><rect x="994.0" y="627.3" width="2.7" height="2.7"/><rect x="994.0" y="634" width="2.7" height="2.7"/><rect x="1000.0" y="627.3" width="2.7" height="2.7"/><rect x="1000.0" y="634" width="2.7" height="2.7"/><rect x="1006.0" y="627.3" width="2.7" height="2.7"/><rect x="1006.0" y="634" width="2.7" height="2.7"/><rect x="1012.0" y="627.3" width="2.7" height="2.7"/><rect x="1012.0" y="634" width="2.7" height="2.7"/><rect x="1018.0" y="627.3" width="2.7" height="2.7"/><rect x="1018.0" y="634" width="2.7" height="2.7"/><rect x="1024.0" y="627.3" width="2.7" height="2.7"/><rect x="1024.0" y="634" width="2.7" height="2.7"/><rect x="1030.0" y="627.3" width="2.7" height="2.7"/><rect x="1030.0" y="634" width="2.7" height="2.7"/></g>
<path d="M1049.5 639.5 L1062.5 639.5 L1056 627 Z M1084.8 626.5 L1097.6 626.5 L1091.2 639 Z" fill="#e2e2e2"/>
<g font-family="'Liberation Sans',sans-serif" font-size="20" fill="#4a4a4a" text-anchor="end">
<text x="89" y="131.4">8.56</text>
<text x="89" y="241.3">8.24</text>
<text x="89" y="362.9">7.92</text>
<text x="89" y="483.7">7.6</text>
<text x="89" y="595.8">7.28</text>
<text x="87.6" y="664">1</text><text x="87.6" y="744.2">-1</text>
</g>
<g font-family="'Liberation Sans',sans-serif" font-size="20" fill="#cdcdcd" text-anchor="end">
<text x="1101.5" y="131.4">10%</text>
<text x="1101.5" y="251">6%</text>
<text x="1101.5" y="373">1%</text>
<text x="1101.5" y="493.6">-3%</text>
<text x="1101.5" y="595.5">-7%</text>
</g>
<g font-family="'Liberation Sans',sans-serif" font-size="20" fill="#0c0c0c">
<text x="90" y="621.2">2024/8/2</text>
<text x="304.3" y="621.2" text-anchor="middle">2024/11</text>
<text x="525.3" y="621.2" text-anchor="middle">2025/2</text>
<text x="715.3" y="621.2" text-anchor="middle">2025/5</text>
<text x="921.5" y="621.2" text-anchor="middle">2025/8</text>
<text x="1101.5" y="621.2" text-anchor="end">2025/10/14</text>
<text x="501.8" y="573.5">7.3983</text>
<text x="834.5" y="142.3">8.4710</text>
</g>
<g font-family="'Liberation Sans',sans-serif" font-size="20">
<text x="90.3" y="107.6" fill="#fb9ab8">MA5: 8.3202</text>
<text x="244.6" y="107.6" fill="#1fbad8">MA10: 8.3443</text>
<text x="399.2" y="107.6" fill="#ee2f7b">MA20: 8.3448</text>
<text x="553.4" y="107.6" fill="#8fbc1b">MA30: 8.2770</text>
<text x="30" y="638.7" fill="#7a7a7a">MACD</text>
<text x="105.3" y="638.7" fill="#4c63f6">DIF: 0.0691</text>
<text x="259.3" y="638.7" fill="#f24cf1">DEA: 0.1013</text>
<text x="413.5" y="638.7" fill="#b03a3a">MACD: -0.0645</text>
</g>
<g stroke="#dcdcdc" stroke-width="1.2" fill="none">
<path d="M90.2 788 V835.3 H1090.5"/>
<line x1="284" x2="284" y1="788" y2="833.5"/>
<line x1="456.8" x2="456.8" y1="788" y2="833.5"/>
<line x1="632" x2="632" y1="788" y2="833.5"/>
<line x1="805.5" x2="805.5" y1="788" y2="833.5"/>
<line x1="980.2" x2="980.2" y1="788" y2="833.5"/>
</g>
<polyline points="91.3,793.5 93.0,791.3 94.7,795.7 96.4,800.5 98.1,807.9 99.8,810.0 101.5,809.3 103.2,809.2 104.9,803.2 106.6,800.1 108.3,795.6 110.0,798.9 111.7,803.0 113.4,806.4 115.1,806.5 116.8,808.1 118.5,810.4 120.2,806.4 121.9,801.6 123.6,804.6 125.3,806.0 127.0,801.6 128.7,801.8 130.4,797.5 132.1,795.6 133.8,795.9 135.5,796.6 137.2,797.7 138.9,795.3 140.6,795.9 142.3,795.6 144.0,794.2 145.7,794.2 147.4,791.3 149.1,789.9 150.8,789.5 152.5,790.7 154.2,790.0 155.9,789.6 157.6,790.1 159.3,789.5 161.0,789.5 162.7,791.3 164.4,791.7 166.1,791.6 167.8,794.7 169.5,796.5 171.2,799.5 172.9,801.0 174.6,799.4 176.3,801.3 178.0,799.7 179.7,801.9 181.4,803.7 183.1,802.1 184.8,804.2 186.5,805.4 188.2,810.0 189.9,813.2 191.6,815.6 193.3,816.7 195.0,813.3 196.7,812.7 198.4,810.9 200.1,809.2 201.8,807.1 203.5,807.5 205.2,810.9 206.9,809.1 208.6,808.3 210.3,803.1 212.0,802.1 213.7,801.5 215.4,802.1 217.1,801.5 218.8,802.0 220.5,804.3 222.2,806.4 223.9,805.5 225.6,809.2 227.3,810.0 229.0,807.2 230.7,804.5 232.4,805.6 234.1,802.6 235.8,802.0 237.5,801.4 239.2,801.8 240.9,798.4 242.6,798.2 244.3,797.2 246.0,799.2 247.7,801.5 249.4,801.6 251.1,798.4 252.8,798.7 254.5,800.0 256.2,802.5 257.9,802.2 259.6,799.3 261.3,799.7 263.0,800.3 264.7,800.9 266.4,804.4 268.1,807.6 269.8,806.3 271.5,804.6 273.2,806.1 274.9,806.9 276.6,808.9 278.3,812.4 280.0,813.6 281.7,814.1 283.4,815.4 285.1,816.5 286.8,815.6 288.5,819.1 290.2,818.9 291.9,819.3 293.6,819.1 295.3,818.0 297.0,818.2 298.7,817.4 300.4,819.1 302.1,817.5 303.8,817.7 305.5,818.2 307.2,818.4 308.9,819.4 310.6,819.0 312.3,819.2 314.0,820.1 315.7,820.3 317.4,820.5 319.1,818.7 320.8,820.4 322.5,818.0 324.2,814.9 325.9,814.8 327.6,815.4 329.3,815.8 331.0,815.4 332.7,818.4 334.4,819.7 336.1,818.9 337.8,818.1 339.5,815.8 341.2,814.8 342.9,814.6 344.6,813.5 346.3,814.4 348.0,812.2 349.7,813.0 351.4,817.1 353.1,816.9 354.8,816.3 356.5,818.0 358.2,817.0 359.9,819.1 361.6,820.2 363.3,819.4 365.0,818.5 366.7,817.8 368.4,818.8 370.1,818.9 371.8,820.8 373.5,818.4 375.2,817.4 376.9,815.8 378.6,815.2 380.3,816.7 382.0,816.9 383.7,816.2 385.4,815.8 387.1,815.6 388.8,815.0 390.5,813.4 392.2,814.6 393.9,814.6 395.6,813.8 397.3,813.5 399.0,813.9 400.7,813.5 402.4,814.9 404.1,816.1 405.8,815.0 407.5,816.0 409.2,815.2 410.9,814.1 412.6,811.3 414.3,810.4 416.0,810.0 417.7,809.5 419.4,809.1 421.1,810.5 422.8,812.0 424.5,812.5 426.2,812.1 427.9,813.0 429.6,813.7 431.3,811.8 433.0,813.8 434.7,815.2 436.4,815.5 438.1,816.1 439.8,815.9 441.5,815.6 443.2,818.0 444.9,817.2 446.6,819.2 448.3,820.2 450.0,819.1 451.7,819.7 453.4,822.1 455.1,823.2 456.8,823.2 458.5,824.9 460.2,827.1 461.9,831.5 463.6,832.8 465.3,831.4 467.0,833.6 468.7,833.6 470.4,833.6 472.1,833.0 473.8,833.5 475.5,832.3 477.2,831.6 478.9,833.6 480.6,832.8 482.3,832.8 484.0,833.6 485.7,833.2 487.4,833.6 489.1,833.6 490.8,832.4 492.5,831.1 494.2,829.8 495.9,828.5 497.6,829.9 499.3,829.3 501.0,830.1 502.7,829.1 504.4,831.3 506.1,829.7 507.8,831.2 509.5,832.8 511.2,833.6 512.9,832.4 514.6,833.4 516.3,831.5 518.0,831.0 519.7,830.4 521.4,828.1 523.1,828.5 524.8,826.9 526.5,826.4 528.2,828.8 529.9,826.9 531.6,827.7 533.3,828.2 535.0,827.4 536.7,826.4 538.4,826.7 540.1,826.9 541.8,827.8 543.5,826.0 545.2,827.5 546.9,826.5 548.6,826.4 550.3,827.8 552.0,826.8 553.7,826.8 555.4,827.6 557.1,828.2 558.8,827.0 560.5,827.7 562.2,827.1 563.9,826.6 565.6,826.6 567.3,826.2 569.0,827.0 570.7,827.4 572.4,829.4 574.1,829.0 575.8,829.4 577.5,829.5 579.2,827.3 580.9,828.1 582.6,829.5 584.3,829.5 586.0,827.7 587.7,827.9 589.4,828.6 591.1,826.6 592.8,826.2 594.5,824.8 596.2,825.5 597.9,824.8 599.6,824.5 601.3,822.1 603.0,823.6 604.7,822.9 606.4,820.5 608.1,822.0 609.8,821.4 611.5,819.3 613.2,821.8 614.9,820.4 616.6,820.9 618.3,822.6 620.0,822.3 621.7,820.5 623.4,821.3 625.1,821.2 626.8,820.4 628.5,819.7 630.2,819.8 631.9,820.9 633.6,818.7 635.3,820.2 637.0,819.8 638.7,819.0 640.4,820.9 642.1,822.7 643.8,823.4 645.5,822.8 647.2,825.8 648.9,825.4 650.6,826.2 652.3,823.8 654.0,824.5 655.7,823.8 657.4,825.4 659.1,823.2 660.8,822.1 662.5,822.2 664.2,822.8 665.9,821.7 667.6,819.5 669.3,818.9 671.0,821.0 672.7,819.7 674.4,819.8 676.1,818.0 677.8,818.2 679.5,820.4 681.2,819.9 682.9,819.1 684.6,821.8 686.3,821.0 688.0,821.6 689.7,819.6 691.4,822.2 693.1,820.3 694.8,823.2 696.5,822.4 698.2,822.5 699.9,823.6 701.6,825.2 703.3,823.6 705.0,823.7 706.7,825.2 708.4,824.7 710.1,824.6 711.8,823.8 713.5,822.0 715.2,821.0 716.9,820.9 718.6,820.7 720.3,821.9 722.0,820.4 723.7,820.8 725.4,819.5 727.1,819.6 728.8,818.5 730.5,819.5 732.2,819.0 733.9,821.4 735.6,821.1 737.3,819.6 739.0,820.1 740.7,821.2 742.4,819.1 744.1,821.6 745.8,820.9 747.5,821.4 749.2,822.9 750.9,822.2 752.6,823.1 754.3,824.2 756.0,825.5 757.7,823.1 759.4,824.2 761.1,823.3 762.8,821.9 764.5,820.1 766.2,823.0 767.9,822.9 769.6,821.9 771.3,820.5 773.0,821.3 774.7,819.3 776.4,818.6 778.1,817.9 779.8,820.4 781.5,820.7 783.2,820.4 784.9,818.9 786.6,818.5 788.3,818.3 790.0,818.5 791.7,817.4 793.4,818.5 795.1,818.1 796.8,820.3 798.5,820.5 800.2,819.6 801.9,818.9 803.6,821.4 805.3,819.7 807.0,820.1 808.7,819.3 810.4,820.8 812.1,821.3 813.8,821.6 815.5,820.4 817.2,821.0 818.9,819.3 820.6,819.8 822.3,819.3 824.0,820.3 825.7,819.3 827.4,819.4 829.1,820.5 830.8,820.7 832.5,822.2 834.2,822.5 835.9,823.6 837.6,823.6 839.3,824.1 841.0,824.8 842.7,823.6 844.4,823.7 846.1,826.0 847.8,823.8 849.5,825.8 851.2,825.9 852.9,824.7 854.6,827.8 856.3,828.6 858.0,828.5 859.7,829.5 861.4,830.4 863.1,829.1 864.8,830.4 866.5,830.2 868.2,831.1 869.9,830.9 871.6,831.1 873.3,831.4 875.0,833.4 876.7,833.5 878.4,833.6 880.1,832.6 881.8,831.8 883.5,832.0 885.2,832.5 886.9,830.9 888.6,832.2 890.3,830.6 892.0,831.4 893.7,831.9 895.4,832.6 897.1,832.5 898.8,831.5 900.5,833.6 902.2,833.6 903.9,833.4 905.6,833.5 907.3,833.6 909.0,831.8 910.7,833.3 912.4,831.4 914.1,830.4 915.8,829.3 917.5,828.9 919.2,825.7 920.9,827.8 922.6,828.9 924.3,827.9 926.0,827.7 927.7,828.1 929.4,828.9 931.1,829.1 932.8,828.4 934.5,828.3 936.2,826.4 937.9,826.4 939.6,826.0 941.3,826.7 943.0,824.6 944.7,824.7 946.4,822.3 948.1,821.8 949.8,821.7 951.5,822.2 953.2,821.5 954.9,820.6 956.6,818.5 958.3,818.5 960.0,819.1 961.7,819.7 963.4,819.2 965.1,821.4 966.8,819.3 968.5,821.5 970.2,821.2 971.9,818.6 973.6,820.2 975.3,821.5 977.0,822.2 978.7,820.9 980.4,820.7 982.1,820.8 983.8,823.4 985.5,821.5 987.2,822.3 988.9,820.7 990.6,821.5 992.3,822.4 994.0,820.0 995.7,822.4 997.4,821.8 999.1,823.2 1000.8,823.0 1002.5,821.1 1004.2,822.7 1005.9,821.0 1007.6,819.2 1009.3,818.8 1011.0,820.2 1012.7,820.0 1014.4,819.4 1016.1,818.9 1017.8,819.7 1019.5,819.8 1021.2,821.6 1022.9,819.4 1024.6,821.9 1026.3,822.5 1028.0,820.7 1029.7,823.4 1031.4,823.2 1033.1,824.1 1034.8,822.7 1036.5,823.3 1038.2,823.7 1039.9,825.9 1041.6,824.9 1043.3,824.5 1045.0,825.0 1046.7,824.5 1048.4,823.4 1050.1,823.1 1051.8,823.9 1053.5,819.8 1055.2,821.5 1056.9,819.2 1058.6,814.5 1060.3,814.5 1062.0,814.7 1063.7,817.4 1065.4,818.0 1067.1,816.6 1068.8,815.5 1070.5,814.1 1072.2,814.1 1073.9,814.5 1075.6,813.8 1077.3,814.8 1079.0,812.5 1080.7,814.3 1082.4,813.2 1084.1,814.4 1085.8,814.5 1087.5,813.8" fill="none" stroke="#b4b4b4" stroke-width="1.4" stroke-linejoin="round"/>
<g font-family="'Liberation Sans',sans-serif" font-size="20" fill="#555" text-anchor="middle">
<text x="284" y="826.6">2012</text>
<text x="457.2" y="826.6">2015</text>
<text x="632" y="826.6">2018</text>
<text x="805.5" y="826.6">2021</text>
<text x="980.2" y="826.6">2024</text>
</g>
<rect x="90" y="785" width="1011.5" height="3" fill="#444"/>
<rect x="1029.6" y="787.5" width="58.5" height="46.3" fill="#3c3c3c" opacity="0.48"/>
<rect x="1029.6" y="832.2" width="58.5" height="1.8" fill="#444"/>
<rect x="1016.6" y="785.6" width="13" height="48" fill="#eeeeee" stroke="#a4aac2" stroke-width="0.9"/>
<rect x="1088.3" y="785.6" width="13" height="48" fill="#eeeeee" stroke="#a4aac2" stroke-width="0.9"/>
</svg>
<div class="ibar">
<div class="ab" style="left:0.3px"><svg width="36" height="36" viewBox="0 0 36 36"><path d="M10 24.8h13L16.5 12.6z" fill="#000"/></svg></div>
<div class="ab" style="left:40.2px"><svg width="36" height="36" viewBox="0 0 36 36"><path d="M11.5 12.6h13L18 24.8z" fill="#000"/></svg></div>
<div class="its"><div class="it">无</div><div class="it on">MACD</div><div class="it">KDJ</div><div class="it">RSI</div><div class="it">BOLL</div><div class="it">WR</div><div class="it">DMI</div></div>
</div>
</body>
</html>
